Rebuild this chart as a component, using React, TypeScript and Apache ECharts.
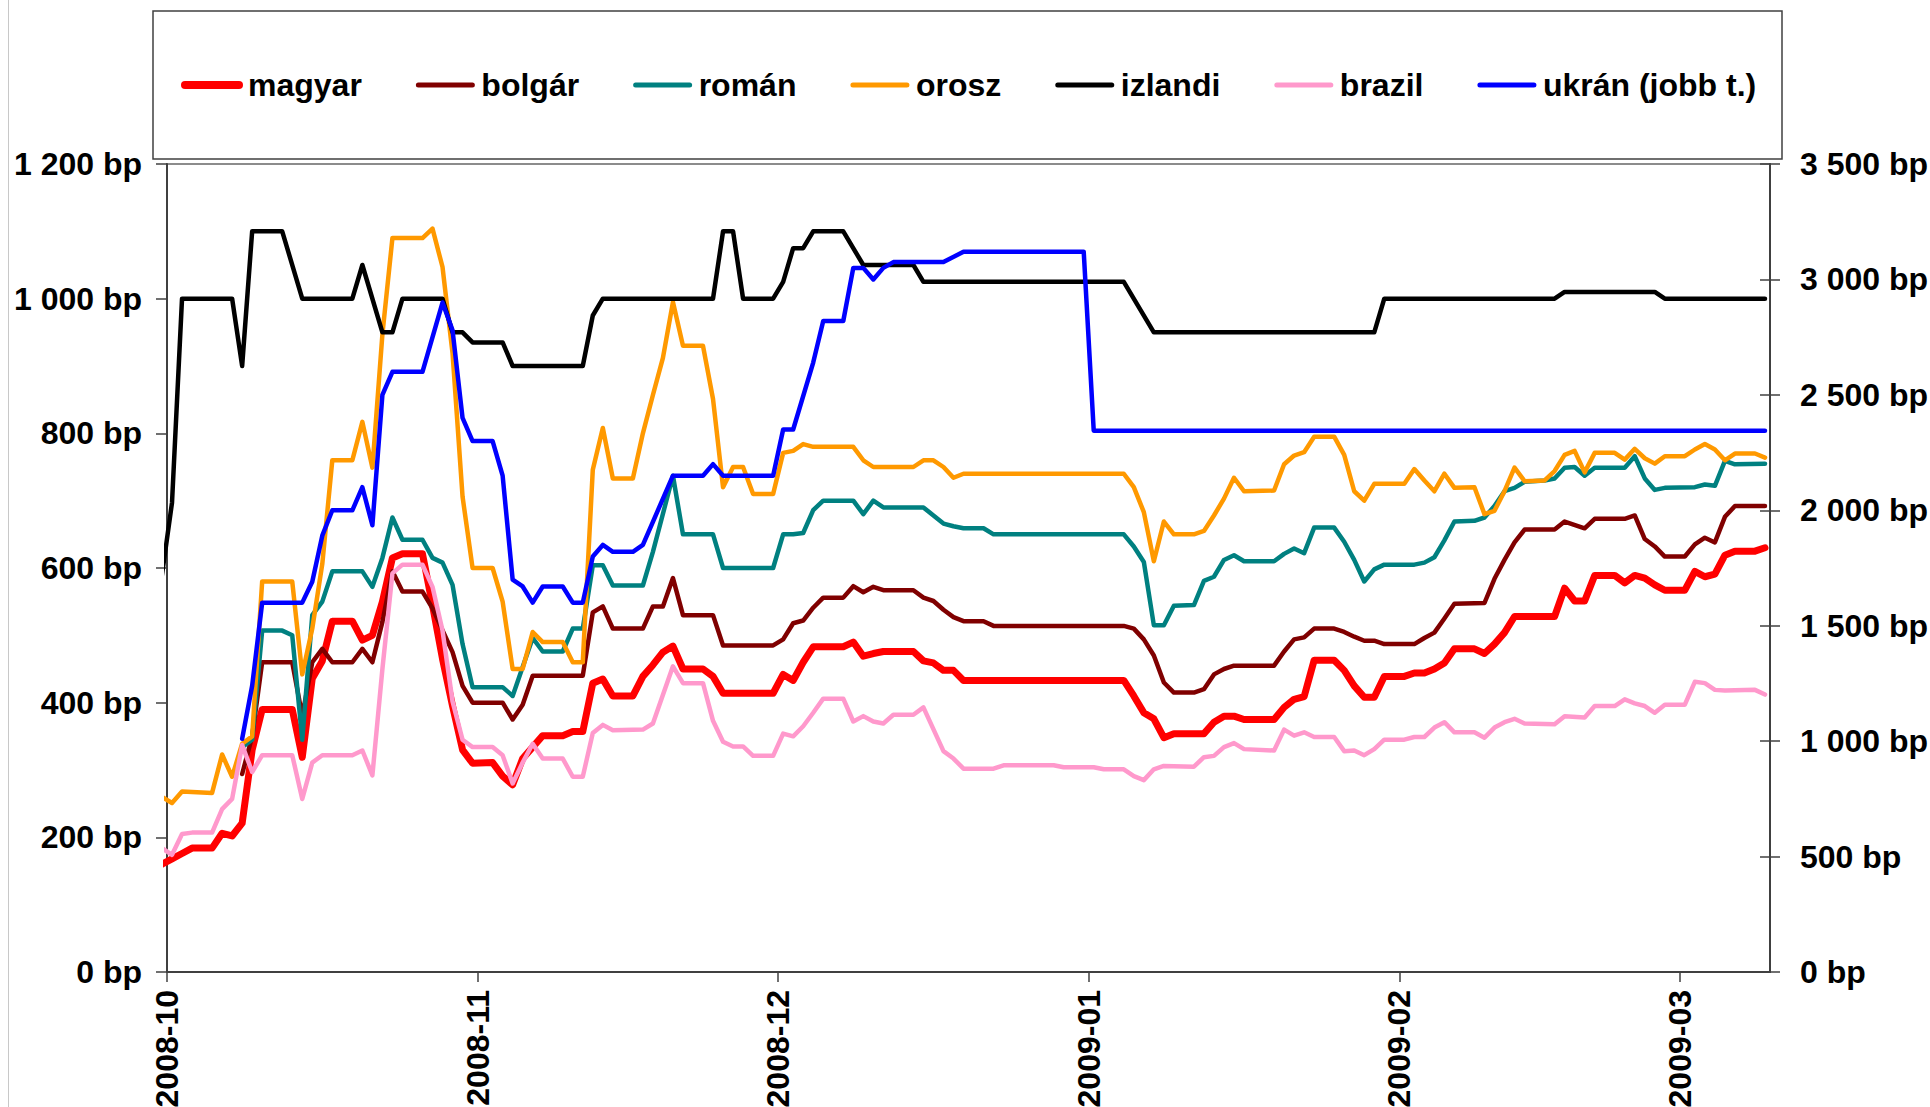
import React, { useEffect, useRef } from "react";
import * as echarts from "echarts";

type Pt = [string, number];

// x axis: daily date axis from 2008-10-01 to 2009-03-10, ticks at month starts
const axisStart = "2008-10-01";
const axisEnd = "2009-03-10";
const monthTicks = ["2008-10-01", "2008-11-01", "2008-12-01", "2009-01-01", "2009-02-01", "2009-03-01"];

const seriesNames = ["magyar", "bolgár", "román", "orosz", "izlandi", "brazil", "ukrán (jobb t.)"];
const seriesColors = ["#FF0000", "#800000", "#008080", "#FF9900", "#000000", "#FF99CC", "#0000FF"];

// spreads (bp), left axis
const magyar: Pt[] = [
  ["2008-09-30", 160], ["2008-10-01", 168], ["2008-10-02", 176], ["2008-10-03", 184], ["2008-10-05", 184],
  ["2008-10-06", 206], ["2008-10-07", 202], ["2008-10-08", 221], ["2008-10-09", 330], ["2008-10-10", 390],
  ["2008-10-13", 390], ["2008-10-14", 319], ["2008-10-15", 436], ["2008-10-16", 462], ["2008-10-17", 521],
  ["2008-10-19", 521], ["2008-10-20", 493], ["2008-10-21", 500], ["2008-10-22", 550], ["2008-10-23", 615],
  ["2008-10-24", 621], ["2008-10-26", 621], ["2008-10-27", 545], ["2008-10-28", 465], ["2008-10-29", 395],
  ["2008-10-30", 330], ["2008-10-31", 310], ["2008-11-02", 311], ["2008-11-03", 291], ["2008-11-04", 278],
  ["2008-11-05", 317], ["2008-11-06", 334], ["2008-11-07", 351], ["2008-11-09", 351], ["2008-11-10", 357],
  ["2008-11-11", 357], ["2008-11-12", 429], ["2008-11-13", 435], ["2008-11-14", 410], ["2008-11-16", 410],
  ["2008-11-17", 439], ["2008-11-18", 456], ["2008-11-19", 475], ["2008-11-20", 484], ["2008-11-21", 450],
  ["2008-11-23", 450], ["2008-11-24", 439], ["2008-11-25", 414], ["2008-11-30", 414], ["2008-12-01", 442],
  ["2008-12-02", 433], ["2008-12-03", 460], ["2008-12-04", 483], ["2008-12-07", 483], ["2008-12-08", 490],
  ["2008-12-09", 469], ["2008-12-10", 473], ["2008-12-11", 476], ["2008-12-14", 476], ["2008-12-15", 462],
  ["2008-12-16", 459], ["2008-12-17", 448], ["2008-12-18", 448], ["2008-12-19", 433], ["2009-01-04", 433],
  ["2009-01-05", 410], ["2009-01-06", 385], ["2009-01-07", 376], ["2009-01-08", 348], ["2009-01-09", 354],
  ["2009-01-12", 354], ["2009-01-13", 371], ["2009-01-14", 380], ["2009-01-15", 380], ["2009-01-16", 375],
  ["2009-01-19", 375], ["2009-01-20", 393], ["2009-01-21", 405], ["2009-01-22", 409], ["2009-01-23", 463],
  ["2009-01-25", 463], ["2009-01-26", 448], ["2009-01-27", 425], ["2009-01-28", 408], ["2009-01-29", 408],
  ["2009-01-30", 439], ["2009-02-01", 439], ["2009-02-02", 444], ["2009-02-03", 444], ["2009-02-04", 450],
  ["2009-02-05", 459], ["2009-02-06", 480], ["2009-02-08", 480], ["2009-02-09", 473], ["2009-02-10", 487],
  ["2009-02-11", 504], ["2009-02-12", 528], ["2009-02-16", 528], ["2009-02-17", 570], ["2009-02-18", 551],
  ["2009-02-19", 551], ["2009-02-20", 589], ["2009-02-22", 589], ["2009-02-23", 578], ["2009-02-24", 589],
  ["2009-02-25", 585], ["2009-02-26", 575], ["2009-02-27", 567], ["2009-03-01", 567], ["2009-03-02", 595],
  ["2009-03-03", 587], ["2009-03-04", 591], ["2009-03-05", 619], ["2009-03-06", 625], ["2009-03-08", 625],
  ["2009-03-09", 630],
];

const bolgar: Pt[] = [
  ["2008-10-08", 294], ["2008-10-09", 350], ["2008-10-10", 460], ["2008-10-13", 460], ["2008-10-14", 380],
  ["2008-10-15", 460], ["2008-10-16", 480], ["2008-10-17", 460], ["2008-10-19", 460], ["2008-10-20", 480],
  ["2008-10-21", 460], ["2008-10-22", 520], ["2008-10-23", 595], ["2008-10-24", 565], ["2008-10-26", 565],
  ["2008-10-27", 540], ["2008-10-29", 475], ["2008-10-30", 425], ["2008-10-31", 400], ["2008-11-03", 400],
  ["2008-11-04", 375], ["2008-11-05", 397], ["2008-11-06", 440], ["2008-11-11", 440], ["2008-11-12", 534],
  ["2008-11-13", 543], ["2008-11-14", 510], ["2008-11-17", 510], ["2008-11-18", 543], ["2008-11-19", 543],
  ["2008-11-20", 585], ["2008-11-21", 530], ["2008-11-24", 530], ["2008-11-25", 485], ["2008-11-30", 485],
  ["2008-12-01", 494], ["2008-12-02", 518], ["2008-12-03", 522], ["2008-12-04", 541], ["2008-12-05", 556],
  ["2008-12-07", 556], ["2008-12-08", 573], ["2008-12-09", 564], ["2008-12-10", 572], ["2008-12-11", 567],
  ["2008-12-14", 567], ["2008-12-15", 556], ["2008-12-16", 551], ["2008-12-17", 538], ["2008-12-18", 527],
  ["2008-12-19", 521], ["2008-12-21", 521], ["2008-12-22", 514], ["2009-01-04", 514], ["2009-01-05", 510],
  ["2009-01-06", 494], ["2009-01-07", 470], ["2009-01-08", 430], ["2009-01-09", 415], ["2009-01-11", 415],
  ["2009-01-12", 420], ["2009-01-13", 442], ["2009-01-14", 450], ["2009-01-15", 455], ["2009-01-19", 455],
  ["2009-01-20", 476], ["2009-01-21", 494], ["2009-01-22", 497], ["2009-01-23", 510], ["2009-01-25", 510],
  ["2009-01-26", 505], ["2009-01-27", 498], ["2009-01-28", 492], ["2009-01-29", 492], ["2009-01-30", 487],
  ["2009-02-02", 487], ["2009-02-03", 496], ["2009-02-04", 504], ["2009-02-05", 525], ["2009-02-06", 547],
  ["2009-02-09", 548], ["2009-02-10", 584], ["2009-02-11", 612], ["2009-02-12", 638], ["2009-02-13", 657],
  ["2009-02-16", 657], ["2009-02-17", 669], ["2009-02-19", 659], ["2009-02-20", 673], ["2009-02-23", 673],
  ["2009-02-24", 678], ["2009-02-25", 643], ["2009-02-26", 632], ["2009-02-27", 617], ["2009-03-01", 617],
  ["2009-03-02", 635], ["2009-03-03", 645], ["2009-03-04", 638], ["2009-03-05", 676], ["2009-03-06", 692],
  ["2009-03-09", 692],
];

const roman: Pt[] = [
  ["2008-10-08", 334], ["2008-10-09", 345], ["2008-10-10", 507], ["2008-10-12", 507], ["2008-10-13", 500],
  ["2008-10-14", 345], ["2008-10-15", 530], ["2008-10-16", 550], ["2008-10-17", 595], ["2008-10-20", 595],
  ["2008-10-21", 572], ["2008-10-22", 615], ["2008-10-23", 675], ["2008-10-24", 642], ["2008-10-26", 642],
  ["2008-10-27", 615], ["2008-10-28", 608], ["2008-10-29", 575], ["2008-10-30", 487], ["2008-10-31", 423],
  ["2008-11-03", 423], ["2008-11-04", 410], ["2008-11-06", 496], ["2008-11-07", 476], ["2008-11-09", 476],
  ["2008-11-10", 510], ["2008-11-11", 510], ["2008-11-12", 604], ["2008-11-13", 604], ["2008-11-14", 574],
  ["2008-11-17", 574], ["2008-11-18", 624], ["2008-11-20", 737], ["2008-11-21", 650], ["2008-11-24", 650],
  ["2008-11-25", 600], ["2008-11-30", 600], ["2008-12-01", 650], ["2008-12-02", 650], ["2008-12-03", 652],
  ["2008-12-04", 686], ["2008-12-05", 700], ["2008-12-08", 700], ["2008-12-09", 680], ["2008-12-10", 700],
  ["2008-12-11", 690], ["2008-12-15", 690], ["2008-12-16", 678], ["2008-12-17", 666], ["2008-12-18", 662],
  ["2008-12-19", 659], ["2008-12-21", 659], ["2008-12-22", 650], ["2009-01-04", 650], ["2009-01-05", 632],
  ["2009-01-06", 609], ["2009-01-07", 515], ["2009-01-08", 515], ["2009-01-09", 544], ["2009-01-11", 545],
  ["2009-01-12", 581], ["2009-01-13", 587], ["2009-01-14", 612], ["2009-01-15", 619], ["2009-01-16", 610],
  ["2009-01-19", 610], ["2009-01-20", 621], ["2009-01-21", 629], ["2009-01-22", 622], ["2009-01-23", 660],
  ["2009-01-25", 660], ["2009-01-26", 639], ["2009-01-27", 612], ["2009-01-28", 580], ["2009-01-29", 598],
  ["2009-01-30", 605], ["2009-02-02", 605], ["2009-02-03", 608], ["2009-02-04", 616], ["2009-02-05", 641],
  ["2009-02-06", 669], ["2009-02-08", 670], ["2009-02-09", 675], ["2009-02-10", 692], ["2009-02-11", 714],
  ["2009-02-12", 719], ["2009-02-13", 728], ["2009-02-15", 730], ["2009-02-16", 733], ["2009-02-17", 749],
  ["2009-02-18", 750], ["2009-02-19", 737], ["2009-02-20", 749], ["2009-02-23", 749], ["2009-02-24", 766],
  ["2009-02-25", 733], ["2009-02-26", 716], ["2009-02-27", 719], ["2009-03-02", 720], ["2009-03-03", 724],
  ["2009-03-04", 722], ["2009-03-05", 759], ["2009-03-06", 754], ["2009-03-09", 755],
];

const orosz: Pt[] = [
  ["2008-09-30", 260], ["2008-10-01", 251], ["2008-10-02", 268], ["2008-10-05", 266], ["2008-10-06", 323],
  ["2008-10-07", 290], ["2008-10-08", 339], ["2008-10-09", 350], ["2008-10-10", 580], ["2008-10-13", 580],
  ["2008-10-14", 442], ["2008-10-15", 510], ["2008-10-16", 606], ["2008-10-17", 760], ["2008-10-19", 760],
  ["2008-10-20", 817], ["2008-10-21", 749], ["2008-10-22", 947], ["2008-10-23", 1090], ["2008-10-26", 1090],
  ["2008-10-27", 1104], ["2008-10-28", 1047], ["2008-10-29", 919], ["2008-10-30", 706], ["2008-10-31", 600],
  ["2008-11-02", 600], ["2008-11-03", 550], ["2008-11-04", 450], ["2008-11-05", 450], ["2008-11-06", 505],
  ["2008-11-07", 490], ["2008-11-09", 490], ["2008-11-10", 460], ["2008-11-11", 460], ["2008-11-12", 746],
  ["2008-11-13", 808], ["2008-11-14", 733], ["2008-11-16", 733], ["2008-11-17", 800], ["2008-11-18", 857],
  ["2008-11-19", 912], ["2008-11-20", 995], ["2008-11-21", 930], ["2008-11-23", 930], ["2008-11-24", 851],
  ["2008-11-25", 720], ["2008-11-26", 750], ["2008-11-27", 750], ["2008-11-28", 710], ["2008-11-30", 710],
  ["2008-12-01", 771], ["2008-12-02", 774], ["2008-12-03", 784], ["2008-12-04", 780], ["2008-12-08", 780],
  ["2008-12-09", 760], ["2008-12-10", 750], ["2008-12-14", 750], ["2008-12-15", 760], ["2008-12-16", 760],
  ["2008-12-17", 750], ["2008-12-18", 734], ["2008-12-19", 740], ["2009-01-04", 740], ["2009-01-05", 720],
  ["2009-01-06", 683], ["2009-01-07", 610], ["2009-01-08", 669], ["2009-01-09", 650], ["2009-01-11", 650],
  ["2009-01-12", 655], ["2009-01-13", 678], ["2009-01-14", 703], ["2009-01-15", 734], ["2009-01-16", 714],
  ["2009-01-19", 715], ["2009-01-20", 754], ["2009-01-21", 767], ["2009-01-22", 772], ["2009-01-23", 795],
  ["2009-01-25", 795], ["2009-01-26", 768], ["2009-01-27", 714], ["2009-01-28", 700], ["2009-01-29", 725],
  ["2009-02-01", 725], ["2009-02-02", 747], ["2009-02-03", 730], ["2009-02-04", 714], ["2009-02-05", 740],
  ["2009-02-06", 719], ["2009-02-08", 720], ["2009-02-09", 680], ["2009-02-10", 685], ["2009-02-11", 714],
  ["2009-02-12", 749], ["2009-02-13", 729], ["2009-02-15", 730], ["2009-02-16", 744], ["2009-02-17", 768],
  ["2009-02-18", 774], ["2009-02-19", 742], ["2009-02-20", 771], ["2009-02-22", 771], ["2009-02-23", 761],
  ["2009-02-24", 777], ["2009-02-25", 763], ["2009-02-26", 755], ["2009-02-27", 766], ["2009-03-01", 766],
  ["2009-03-02", 776], ["2009-03-03", 784], ["2009-03-04", 776], ["2009-03-05", 760], ["2009-03-06", 770],
  ["2009-03-08", 770], ["2009-03-09", 764],
];

const izlandi: Pt[] = [
  ["2008-09-30", 590], ["2008-10-01", 697], ["2008-10-02", 1000], ["2008-10-07", 1000], ["2008-10-08", 900],
  ["2008-10-09", 1100], ["2008-10-12", 1100], ["2008-10-14", 1000], ["2008-10-19", 1000], ["2008-10-20", 1050],
  ["2008-10-22", 950], ["2008-10-23", 950], ["2008-10-24", 1000], ["2008-10-28", 1000], ["2008-10-29", 950],
  ["2008-10-30", 950], ["2008-10-31", 935], ["2008-11-03", 935], ["2008-11-04", 900], ["2008-11-11", 900],
  ["2008-11-12", 975], ["2008-11-13", 1000], ["2008-11-24", 1000], ["2008-11-25", 1100], ["2008-11-26", 1100],
  ["2008-11-27", 1000], ["2008-11-30", 1000], ["2008-12-01", 1025], ["2008-12-02", 1075], ["2008-12-03", 1075],
  ["2008-12-04", 1100], ["2008-12-07", 1100], ["2008-12-09", 1050], ["2008-12-14", 1050], ["2008-12-15", 1025],
  ["2009-01-04", 1025], ["2009-01-07", 950], ["2009-01-29", 950], ["2009-01-30", 1000], ["2009-02-16", 1000],
  ["2009-02-17", 1010], ["2009-02-26", 1010], ["2009-02-27", 1000], ["2009-03-09", 1000],
];

const brazil: Pt[] = [
  ["2008-09-30", 184], ["2008-10-01", 174], ["2008-10-02", 205], ["2008-10-03", 207], ["2008-10-05", 207],
  ["2008-10-06", 242], ["2008-10-07", 257], ["2008-10-08", 337], ["2008-10-09", 297], ["2008-10-10", 322],
  ["2008-10-13", 322], ["2008-10-14", 257], ["2008-10-15", 311], ["2008-10-16", 322], ["2008-10-19", 322],
  ["2008-10-20", 329], ["2008-10-21", 292], ["2008-10-22", 450], ["2008-10-23", 592], ["2008-10-24", 605],
  ["2008-10-26", 605], ["2008-10-27", 572], ["2008-10-28", 507], ["2008-10-29", 402], ["2008-10-30", 345],
  ["2008-10-31", 334], ["2008-11-02", 334], ["2008-11-03", 322], ["2008-11-04", 280], ["2008-11-05", 311],
  ["2008-11-06", 339], ["2008-11-07", 317], ["2008-11-09", 317], ["2008-11-10", 290], ["2008-11-11", 290],
  ["2008-11-12", 355], ["2008-11-13", 367], ["2008-11-14", 359], ["2008-11-17", 360], ["2008-11-18", 369],
  ["2008-11-20", 454], ["2008-11-21", 429], ["2008-11-23", 429], ["2008-11-24", 373], ["2008-11-25", 342],
  ["2008-11-26", 335], ["2008-11-27", 335], ["2008-11-28", 321], ["2008-11-30", 321], ["2008-12-01", 354],
  ["2008-12-02", 350], ["2008-12-03", 365], ["2008-12-04", 385], ["2008-12-05", 406], ["2008-12-07", 406],
  ["2008-12-08", 372], ["2008-12-09", 380], ["2008-12-10", 372], ["2008-12-11", 369], ["2008-12-12", 382],
  ["2008-12-14", 382], ["2008-12-15", 393], ["2008-12-17", 328], ["2008-12-18", 317], ["2008-12-19", 302],
  ["2008-12-22", 302], ["2008-12-23", 307], ["2008-12-28", 307], ["2008-12-29", 304], ["2009-01-01", 304],
  ["2009-01-02", 301], ["2009-01-04", 301], ["2009-01-05", 291], ["2009-01-06", 285], ["2009-01-07", 301],
  ["2009-01-08", 306], ["2009-01-11", 305], ["2009-01-12", 319], ["2009-01-13", 321], ["2009-01-14", 334],
  ["2009-01-15", 340], ["2009-01-16", 331], ["2009-01-19", 329], ["2009-01-20", 360], ["2009-01-21", 351],
  ["2009-01-22", 356], ["2009-01-23", 349], ["2009-01-25", 349], ["2009-01-26", 328], ["2009-01-27", 329],
  ["2009-01-28", 322], ["2009-01-29", 331], ["2009-01-30", 345], ["2009-02-01", 345], ["2009-02-02", 349],
  ["2009-02-03", 349], ["2009-02-04", 363], ["2009-02-05", 371], ["2009-02-06", 356], ["2009-02-08", 356],
  ["2009-02-09", 348], ["2009-02-10", 363], ["2009-02-11", 371], ["2009-02-12", 376], ["2009-02-13", 369],
  ["2009-02-16", 368], ["2009-02-17", 380], ["2009-02-19", 378], ["2009-02-20", 395], ["2009-02-22", 395],
  ["2009-02-23", 405], ["2009-02-24", 399], ["2009-02-25", 395], ["2009-02-26", 385], ["2009-02-27", 397],
  ["2009-03-01", 397], ["2009-03-02", 431], ["2009-03-03", 429], ["2009-03-04", 419], ["2009-03-05", 418],
  ["2009-03-08", 419], ["2009-03-09", 412],
];

// right axis
const ukran: Pt[] = [
  ["2008-10-08", 1010], ["2008-10-09", 1240], ["2008-10-10", 1600], ["2008-10-14", 1600], ["2008-10-15", 1690],
  ["2008-10-16", 1890], ["2008-10-17", 2000], ["2008-10-19", 2000], ["2008-10-20", 2100], ["2008-10-21", 1935],
  ["2008-10-22", 2500], ["2008-10-23", 2600], ["2008-10-26", 2600], ["2008-10-28", 2900], ["2008-10-29", 2780],
  ["2008-10-30", 2400], ["2008-10-31", 2300], ["2008-11-02", 2300], ["2008-11-03", 2150], ["2008-11-04", 1700],
  ["2008-11-05", 1670], ["2008-11-06", 1600], ["2008-11-07", 1670], ["2008-11-09", 1670], ["2008-11-10", 1600],
  ["2008-11-11", 1600], ["2008-11-12", 1800], ["2008-11-13", 1850], ["2008-11-14", 1820], ["2008-11-16", 1820],
  ["2008-11-17", 1850], ["2008-11-18", 1950], ["2008-11-20", 2150], ["2008-11-23", 2150], ["2008-11-24", 2200],
  ["2008-11-25", 2150], ["2008-11-30", 2150], ["2008-12-01", 2350], ["2008-12-02", 2350], ["2008-12-04", 2640],
  ["2008-12-05", 2820], ["2008-12-07", 2820], ["2008-12-08", 3050], ["2008-12-09", 3050], ["2008-12-10", 3000],
  ["2008-12-11", 3050], ["2008-12-12", 3075], ["2008-12-17", 3075], ["2008-12-19", 3120], ["2008-12-31", 3120],
  ["2009-01-01", 2345], ["2009-03-09", 2345],
];

const leftAxis = { min: 0, max: 1200, interval: 200 };
const rightAxis = { min: 0, max: 3500, interval: 500 };

const FONT = "'Liberation Sans', Arial, sans-serif";

function dayIndex(s: string): number {
  const [y, m, d] = s.split("-").map(Number);
  const [y0, m0, d0] = axisStart.split("-").map(Number);
  return Math.round((Date.UTC(y, m - 1, d) - Date.UTC(y0, m0 - 1, d0)) / 86400000);
}

function bp(v: number): string {
  return String(v).replace(/\B(?=(\d{3})+(?!\d))/g, " ") + " bp";
}

// each daily value sits in the middle of its day slot on the date axis
const toXY = (pts: Pt[]) => pts.map(([d, v]) => [dayIndex(d) + 0.5, v]);

export default function App() {
  const ref = useRef<HTMLDivElement>(null);

  useEffect(() => {
    if (!ref.current) return;
    const chart = echarts.init(ref.current, undefined, { renderer: "svg" });
    const tickDays = monthTicks.map(dayIndex);
    const axisColor = "#404040";
    const lineSets = [magyar, bolgar, roman, orosz, izlandi, brazil, ukran];
    const widths = [7, 4.5, 4.5, 4.5, 4.5, 4.5, 4.5];

    const option: any = {
      animation: false,
      backgroundColor: "#ffffff",
      textStyle: { fontFamily: FONT },
      grid: {
        left: 167,
        top: 164,
        width: 1603,
        height: 808,
        show: true,
        borderColor: "#8c8c8c",
        borderWidth: 2,
        containLabel: false,
        outerBoundsMode: "none",
      },
      legend: {
        left: 181,
        top: 69,
        padding: 0,
        itemWidth: 54,
        itemHeight: 16,
        itemGap: 54,
        textStyle: {
          fontSize: 32,
          fontWeight: "bold",
          color: "#000",
          fontFamily: FONT,
          padding: [0, 0, 0, 4],
        },
        data: seriesNames.map((n, i) => ({
          name: n,
          lineStyle: { width: i === 0 ? 8 : 5, cap: "round", color: seriesColors[i] },
          itemStyle: { opacity: 0 },
        })),
      },
      graphic: [
        {
          type: "rect",
          shape: { x: 153, y: 11, width: 1629, height: 148 },
          style: { fill: "none", stroke: "#404040", lineWidth: 1.5 },
          z: -1,
        },
        {
          type: "line",
          shape: { x1: 8.5, y1: 0, x2: 8.5, y2: 1107 },
          style: { stroke: "#c8c8c8", lineWidth: 1 },
        },
      ],
      xAxis: {
        type: "value",
        min: dayIndex(axisStart),
        max: dayIndex(axisEnd),
        axisLine: { show: true, onZero: false, lineStyle: { color: axisColor, width: 2 } },
        axisTick: { show: true, customValues: tickDays, length: 10, lineStyle: { color: axisColor, width: 1.5 } },
        axisLabel: {
          customValues: tickDays,
          rotate: 90,
          margin: 18,
          fontSize: 32,
          fontWeight: "bold",
          color: "#000",
          fontFamily: FONT,
          formatter: (val: number) => {
            const i = tickDays.indexOf(Math.round(val));
            return i >= 0 ? monthTicks[i].slice(0, 7) : "";
          },
        },
        splitLine: { show: false },
      },
      yAxis: [
        {
          type: "value",
          position: "left",
          ...leftAxis,
          axisLine: { show: true, lineStyle: { color: axisColor, width: 2 } },
          axisTick: { show: true, length: 11, lineStyle: { color: axisColor, width: 1.5 } },
          axisLabel: {
            margin: 25,
            fontSize: 32,
            fontWeight: "bold",
            color: "#000",
            fontFamily: FONT,
            formatter: (v: number) => bp(v),
          },
          splitLine: { show: false },
        },
        {
          type: "value",
          position: "right",
          ...rightAxis,
          axisLine: { show: true, lineStyle: { color: axisColor, width: 2 } },
          axisTick: { show: true, length: 10, lineStyle: { color: axisColor, width: 1.5 } },
          axisLabel: {
            margin: 30,
            fontSize: 32,
            fontWeight: "bold",
            color: "#000",
            fontFamily: FONT,
            formatter: (v: number) => bp(v),
          },
          splitLine: { show: false },
        },
        {
          type: "value",
          position: "right",
          ...rightAxis,
          axisLine: { show: false },
          axisTick: { show: true, inside: true, length: 10, lineStyle: { color: axisColor, width: 1.5 } },
          axisLabel: { show: false },
          splitLine: { show: false },
        },
      ],
      series: lineSets.map((pts, i) => ({
        name: seriesNames[i],
        type: "line",
        yAxisIndex: i === 6 ? 1 : 0,
        data: toXY(pts),
        symbol: "none",
        clip: true,
        lineStyle: { color: seriesColors[i], width: widths[i], cap: "round", join: "round" },
        itemStyle: { color: seriesColors[i] },
        emphasis: { disabled: true },
      })),
    };

    chart.setOption(option);
    return () => chart.dispose();
  }, []);

  return (
    <div
      ref={ref}
      style={{ position: "fixed", left: 0, top: 0, width: 1930, height: 1107, background: "#fff" }}
    />
  );
}
